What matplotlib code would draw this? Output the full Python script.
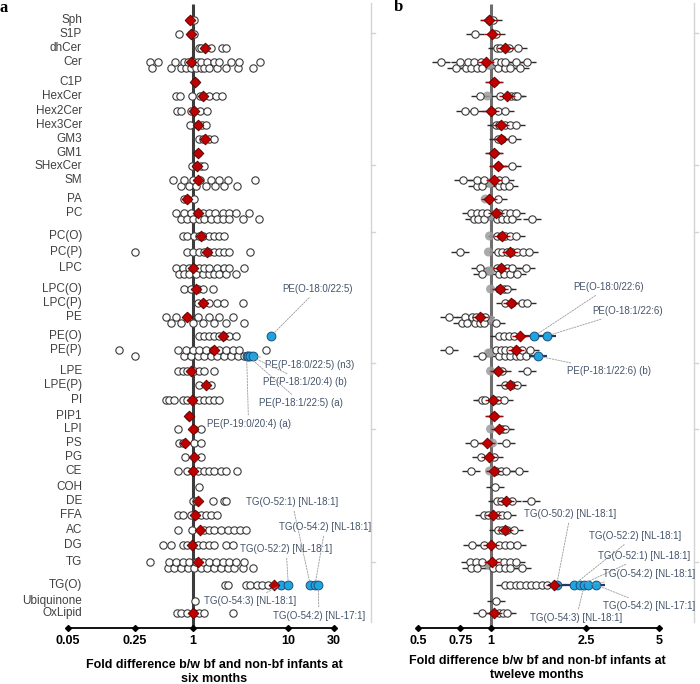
import matplotlib
matplotlib.use('Agg')
import matplotlib.pyplot as plt

plt.rcParams['font.family'] = ['Liberation Sans', 'DejaVu Sans']

# ---------------- data ----------------
categories = ['Sph', 'S1P', 'dhCer', 'Cer', 'C1P', 'HexCer', 'Hex2Cer', 'Hex3Cer', 'GM3', 'GM1',
              'SHexCer', 'SM', 'PA', 'PC', 'PC(O)', 'PC(P)', 'LPC', 'LPC(O)', 'LPC(P)', 'PE',
              'PE(O)', 'PE(P)', 'LPE', 'LPE(P)', 'PI', 'PIP1', 'LPI', 'PS', 'PG', 'CE', 'COH',
              'DE', 'FFA', 'AC', 'DG', 'TG', 'TG(O)', 'Ubiquinone', 'OxLipid']

# fold differences per species, six months (panel a)
six_pts = [
    [0.93, 0.97, 1.03],
    [0.73, 0.97, 1.04],
    [1.17, 1.22, 1.36, 1.55, 2.02, 2.23],
    [0.36, 0.38, 0.44, 0.60, 0.65, 0.76, 0.82, 0.89, 0.96, 1.04, 1.13, 1.22, 1.32, 1.49, 1.78,
     0.85, 1.08, 1.22, 1.43, 1.69, 1.90, 2.23, 2.51, 2.95, 3.07, 4.31, 5.1],
    [1.05],
    [0.67, 0.74, 0.98, 1.20, 1.29, 1.49, 1.75, 2.02],
    [0.68, 0.75, 0.96, 1.04, 1.19, 1.43],
    [0.94, 1.13, 1.25, 1.38],
    [1.17, 1.29, 1.49, 1.66],
    [1.15],
    [0.98, 1.08, 1.22, 1.32],
    [0.62, 0.76, 0.82, 0.91, 1.0, 1.08, 1.2, 1.38, 1.55, 1.73, 1.9, 2.11, 2.36, 2.88, 4.48],
    [0.82, 0.87, 1.03],
    [0.82, 0.96, 1.13, 1.29, 1.49, 1.73, 2.06, 2.42, 2.83, 3.33, 3.91, 4.9,
     0.67, 0.75, 0.87, 1.0, 1.17, 1.32, 1.55, 1.82, 2.06, 2.42],
    [0.79, 0.88, 1.04, 1.17, 1.29, 1.49, 1.66, 1.9, 2.14],
    [0.25, 0.88, 1.0, 1.17, 1.32, 1.49, 1.66, 1.9, 2.14, 2.42, 4.0],
    [0.73, 0.82, 0.92, 1.04, 1.17, 1.32, 1.49, 1.69, 1.90, 2.14, 2.42, 2.83, 3.46,
     0.67, 0.79, 0.92, 1.08, 1.27, 1.49, 1.78, 2.23],
    [0.82, 0.96, 1.13, 1.29, 1.62],
    [1.13, 1.27, 1.49, 1.78, 2.14, 3.4],
    [0.53, 0.59, 0.67, 0.75, 0.87, 1.0, 1.13, 1.29, 1.49, 1.66, 1.9, 2.23, 2.62, 3.46],
    [1.17, 1.32, 1.49, 1.66, 1.9, 2.14, 2.42, 2.83],
    [0.17, 0.25, 0.85, 1.0, 1.17, 1.38, 1.62, 1.90, 2.23, 2.62, 3.07,
     0.70, 0.82, 0.96, 1.13, 1.32, 1.55, 1.82, 2.14, 2.51, 2.95, 3.46, 5.83],
    [0.70, 0.79, 0.88, 1.04, 1.17, 1.32, 1.66],
    [1.17, 1.55],
    [0.53, 0.57, 0.64, 0.79, 0.88, 1.04, 1.17, 1.32, 1.49, 1.66, 1.9],
    [0.91],
    [0.71, 1.04, 1.22],
    [0.73, 0.79, 1.04, 1.22],
    [0.84, 1.22],
    [0.70, 0.88, 1.0, 1.13, 1.32, 1.49, 1.68, 1.98, 2.23, 2.88],
    [1.17],
    [1.0, 1.08, 1.62, 2.14, 2.26],
    [0.70, 0.79, 0.96, 1.08, 1.22, 1.38, 1.55, 1.80],
    [0.70, 0.98, 1.32, 1.49, 1.68, 1.98, 2.32, 2.73, 3.15, 3.6],
    [0.49, 0.59, 0.79, 0.88, 1.0, 1.13, 1.29, 1.49, 1.68, 2.23, 2.62],
    [0.57, 0.67, 0.79, 0.92, 1.08, 1.27, 1.49, 1.75, 2.06, 2.42, 2.83, 3.33, 4.24,
     0.36, 0.55, 0.64, 0.76, 0.89, 1.04, 1.22, 1.43, 1.69, 1.98, 2.32, 2.73, 3.46],
    [2.2, 2.35, 3.6, 3.95, 4.75, 5.35, 6.2],
    [1.07],
    [0.68, 0.76, 0.88, 1.04, 1.17, 1.32, 2.62],
]
six_mean = [0.94, 0.97, 1.36, 0.96, 1.05, 1.29, 1.04, 1.15, 1.36, 1.15, 1.10, 1.15, 0.87, 1.13,
            1.22, 1.43, 1.02, 1.08, 1.29, 0.87, 2.06, 1.66, 0.96, 1.38, 0.98, 0.91, 1.0, 0.84,
            1.04, 1.0, None, 1.15, 1.07, 1.2, 0.98, 1.15, 7.1, None, 1.0]
six_highlight = {'PE(O)': [6.6], 'PE(P)': [3.67, 3.8, 3.97, 4.31],
                 'TG(O)': [8.4, 10.0, 17.0, 19.0, 20.5]}

# fold differences per species, twelve months (panel b)
twelve_pts = [
    [0.99, 1.02],
    [0.86, 1.05],
    [1.06, 1.09, 1.15, 1.19, 1.30],
    [0.62, 0.72, 0.75, 0.79, 0.81, 0.85, 0.88, 0.92, 1.05, 1.10, 1.15,
     0.83, 0.91, 1.07, 1.15, 1.21, 1.27, 1.33, 1.42],
    [1.03],
    [0.90, 1.09, 1.22, 1.26, 1.29],
    [0.78, 0.85, 1.0, 1.07, 1.15],
    [1.05, 1.08, 1.15, 1.21, 1.28],
    [1.07, 1.12, 1.23],
    [1.03],
    [1.07, 1.23],
    [0.77, 0.88, 0.92, 1.08, 1.14, 1.19, 0.88, 0.94, 1.08, 1.15],
    [1.07],
    [0.83, 0.88, 0.92, 0.97, 1.06, 1.12, 1.17, 1.23, 0.85, 0.89, 0.94, 1.08, 1.15, 1.21, 1.27, 1.49],
    [1.06, 1.10, 1.15, 1.21, 1.28],
    [0.75, 1.07, 1.12, 1.17, 1.23, 1.29, 1.37, 1.44],
    [0.92, 1.06, 1.11, 1.17, 1.23, 1.29, 1.40, 0.90, 1.08, 1.14, 1.20],
    [1.08, 1.14, 1.17],
    [1.15, 1.23, 1.35, 1.42],
    [0.67, 0.76, 0.80, 0.84, 0.87, 0.91, 0.95, 1.05, 0.78, 0.86, 0.90, 0.94],
    [1.08, 1.14, 1.19, 1.25],
    [0.67, 0.92, 1.08, 1.15, 1.21, 1.27, 1.35, 1.05, 1.10, 1.15, 1.21, 1.27, 1.33, 1.40, 1.46],
    [1.07, 1.12, 1.41],
    [1.15, 1.23, 1.29],
    [0.92, 0.95, 1.03, 1.07, 1.14],
    [1.03],
    [1.12, 1.15],
    [0.85, 1.16],
    [0.91, 1.03],
    [0.83, 1.05, 1.10, 1.16, 1.31],
    [1.04],
    [1.06, 1.10, 1.23, 1.47],
    [0.94, 0.98, 1.07, 1.12, 1.17],
    [1.07, 1.12, 1.17, 1.25],
    [0.84, 0.94, 1.08, 1.15, 1.21, 1.29],
    [0.83, 0.88, 1.02, 1.08, 1.15, 1.21, 0.82, 0.87, 0.92, 1.08, 1.14, 1.21, 1.28, 1.35],
    [1.15, 1.21, 1.27, 1.33, 1.40, 1.47, 1.54, 1.64, 1.72],
    [1.05],
    [0.92, 1.08, 1.13, 1.17],
]
twelve_mean = [0.99, 1.01, 1.15, 0.96, 1.03, 1.17, 1.0, 1.11, 1.11, 1.03, 1.07, 1.03, 0.99, 1.05,
               1.12, 1.20, 1.11, 1.09, 1.22, 0.90, 1.33, 1.27, 1.07, 1.21, 1.02, 1.03, 1.08, 0.97,
               0.99, 1.03, None, 1.16, 1.02, 1.15, 1.0, 1.01, 1.83, None, 1.03]
twelve_highlight = {'PE(O)': [1.52, 1.71], 'PE(P)': [1.57],
                    'TG(O)': [1.88, 2.21, 2.36, 2.45, 2.53, 2.75]}
twelve_near_one = {'S1P': [1.04], 'Cer': [0.98, 1.0], 'HexCer': [0.97], 'SM': [0.99, 1.0],
                   'PA': [0.95], 'PC': [0.98, 1.0, 1.01], 'PC(O)': [0.99], 'PC(P)': [0.98],
                   'LPC': [0.98, 1.0], 'LPC(O)': [1.0], 'PE': [1.0], 'PE(P)': [0.98, 1.0],
                   'LPE': [1.0], 'LPI': [1.0], 'PS': [1.02], 'CE': [0.99], 'TG': [0.98, 1.0, 1.0]}

six_ticks = [0.05, 0.25, 1, 10, 30]
six_ticklabels = ['0.05', '0.25', '1', '10', '30']
twelve_ticks = [0.5, 0.75, 1, 2.5, 5]
twelve_ticklabels = ['0.5', '0.75', '1', '2.5', '5']

# labelled species: (text, category, point value, text x value, text y)
six_labels = [
    ('PE(O-18:0/22:5)', 'PE(O)', 6.6, 8.7, 289),
    ('PE(P-18:0/22:5) (n3)', 'PE(P)', 4.31, 5.65, 365),
    ('PE(P-18:1/20:4) (b)', 'PE(P)', 3.97, 5.4, 382),
    ('PE(P-18:1/22:5) (a)', 'PE(P)', 3.8, 5.0, 403),
    ('PE(P-19:0/20:4) (a)', 'PE(P)', 3.67, 1.40, 424),
    ('TG(O-52:1) [NL-18:1]', 'TG(O)', 17.0, 3.61, 502),
    ('TG(O-54:2) [NL-18:1]', 'TG(O)', 19.0, 7.99, 527),
    ('TG(O-52:2) [NL-18:1]', 'TG(O)', 10.0, 3.13, 549),
    ('TG(O-54:3) [NL-18:1]', 'TG(O)', 8.4, 1.32, 601),
    ('TG(O-54:2) [NL-17:1]', 'TG(O)', 20.5, 6.91, 616),
]
twelve_labels = [
    ('PE(O-18:0/22:6)', 'PE(O)', 1.52, 2.20, 287),
    ('PE(O-18:1/22:6)', 'PE(O)', 1.71, 2.64, 311),
    ('PE(P-18:1/22:6) (b)', 'PE(P)', 1.57, 2.08, 371),
    ('TG(O-50:2) [NL-18:1]', 'TG(O)', 1.88, 1.38, 514),
    ('TG(O-52:2) [NL-18:1]', 'TG(O)', 2.21, 2.56, 536),
    ('TG(O-52:1) [NL-18:1]', 'TG(O)', 2.36, 2.79, 556),
    ('TG(O-54:2) [NL-18:1]', 'TG(O)', 2.53, 2.93, 574),
    ('TG(O-54:2) [NL-17:1]', 'TG(O)', 2.75, 2.93, 606),
    ('TG(O-54:3) [NL-18:1]', 'TG(O)', 2.45, 1.46, 618),
]

# ---------------- layout ----------------
row_y = [20, 34, 48, 62, 82, 96, 111, 125, 139, 153, 166, 180, 199, 213, 236, 252, 268, 289,
         303, 317, 336, 350, 371, 385, 400, 416, 429, 443, 457, 471, 487, 501, 515, 530, 545,
         562, 585, 601, 613]
double_rows = {'Cer', 'SM', 'PC', 'LPC', 'PE', 'PE(P)', 'TG'}
AXIS_Y = 628
W, H = 700, 684

fig = plt.figure(figsize=(7, 6.84), dpi=100)
ov = fig.add_axes([0, 0, 1, 1])
ov.set_xlim(0, W)
ov.set_ylim(H, 0)
ov.axis('off')


def make_panel(x0, x1, lo, hi):
    ax = fig.add_axes([x0 / W, 0, (x1 - x0) / W, 1])
    ax.set_xscale('log')
    ax.set_xlim(lo, hi)
    ax.set_ylim(H, 0)
    ax.axis('off')
    ax.patch.set_alpha(0)
    return ax


ax_a = make_panel(68, 334, 0.05, 30)
ax_b = make_panel(418, 659, 0.5, 5)

label_color = '#44546a'


def draw_panel(ax, pts, means, highlight, near_one, bars, line_color, ticks, ticklabels, labels):
    ax.plot([1, 1], [4, AXIS_Y], color=line_color, lw=2.2, zorder=1, solid_capstyle='butt')
    for i, cat in enumerate(categories):
        y0 = row_y[i]
        vals = sorted(pts[i])
        if cat in double_rows:
            ys = [y0 + (6 if k % 2 else 0) for k in range(len(vals))]
        else:
            ys = [y0] * len(vals)
        if near_one and cat in near_one:
            nv = near_one[cat]
            ny = [y0 + (3 if cat in double_rows else 0)] * len(nv)
            ax.scatter(nv, ny, s=42, facecolor='#9c9c9c', edgecolor='none', alpha=0.85, zorder=2.6)
        if bars:
            ax.plot(vals, ys, ls='none', marker='_', ms=13, mew=1.0, color='#2b2b2b', zorder=2)
        ax.scatter(vals, ys, s=28, facecolor='white', edgecolor='#3a3a3a', linewidths=0.8, zorder=3)
        if cat in highlight:
            hv = highlight[cat]
            hy = [y0 + (6 if cat in double_rows else 0)] * len(hv)
            if bars:
                ax.plot(hv, hy, ls='none', marker='_', ms=13, mew=1.6, color='#1f3864', zorder=3.5)
            ax.scatter(hv, hy, s=40, facecolor='#1ea5e0', edgecolor='#1f4e79', linewidths=0.7, zorder=4)
        m = means[i]
        if m is not None:
            if bars:
                ax.plot([m], [y0], marker='_', ms=11, mew=1.0, color='#c00000', zorder=4.5)
            ax.scatter([m], [y0], s=30, marker='D', facecolor='#c00000', edgecolor='#5a0000',
                       linewidths=0.6, zorder=5)
    lo, hi = ax.get_xlim()
    ax.plot([lo, hi], [AXIS_Y, AXIS_Y], color='black', lw=1.3, clip_on=False, zorder=1)
    ax.plot(ticks, [AXIS_Y] * len(ticks), ls='none', marker='D', ms=3, color='black', clip_on=False)
    for t, tl in zip(ticks, ticklabels):
        ax.text(t, 641, tl, ha='center', va='center', fontsize=9, fontweight='bold', clip_on=False)
    for text, cat, pv, tx, ty in labels:
        i = categories.index(cat)
        py = row_y[i] + (6 if cat in double_rows else 0)
        ax.annotate(text, xy=(pv, py), xytext=(tx, ty), textcoords='data', ha='left', va='center',
                    fontsize=7, color=label_color, annotation_clip=False, zorder=6,
                    arrowprops=dict(arrowstyle='-', linestyle=(0, (2, 1.5)), color='#9a9a9a',
                                    lw=0.6, shrinkA=1, shrinkB=3))


draw_panel(ax_a, six_pts, six_mean, six_highlight, None, False, '#3c3c3c',
           six_ticks, six_ticklabels, six_labels)
draw_panel(ax_b, twelve_pts, twelve_mean, twelve_highlight, twelve_near_one, True, '#6e6e6e',
           twelve_ticks, twelve_ticklabels, twelve_labels)

# category labels
for cat, y in zip(categories, row_y):
    ov.text(82, y, cat, ha='right', va='center', fontsize=8.5, color='#404040')

# light frame of panel b
for fx in (371, 694):
    ov.plot([fx, fx], [3, 622], color='#d4d4d4', lw=1)
    for ty in (33, 165, 232, 363, 429, 562):
        ov.plot([fx, fx + 4], [ty, ty], color='#d4d4d4', lw=1)

# axis titles
ov.text(214, 672, 'Fold difference b/w bf and non-bf infants at\nsix months', ha='center',
        va='center', fontsize=9, fontweight='bold', linespacing=1.2)
ov.text(537, 668, 'Fold difference b/w bf and non-bf infants at\ntweleve months', ha='center',
        va='center', fontsize=9, fontweight='bold', linespacing=1.2)

# panel letters
ov.text(4, 8, 'a', ha='center', va='center', fontsize=12, fontweight='bold', family='Liberation Serif')
ov.text(398, 7, 'b', ha='center', va='center', fontsize=12, fontweight='bold', family='Liberation Serif')

fig.savefig('out.png', dpi=100)
